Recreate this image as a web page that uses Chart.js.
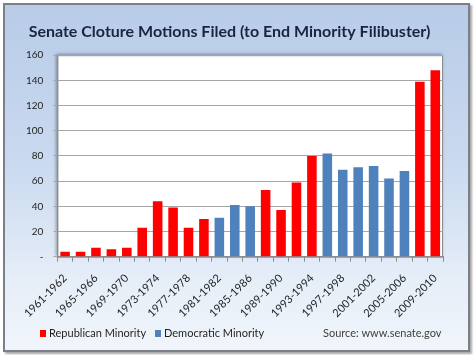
<!DOCTYPE html>
<html>
<head>
<meta charset="utf-8">
<script src="https://cdn.jsdelivr.net/npm/chart.js@4/dist/chart.umd.min.js"></script>
<style>
  html, body { margin: 0; padding: 0; background: #ffffff; }
  #wrap { position: relative; width: 474px; height: 355px; overflow: hidden; }
  #frame {
    position: absolute; left: 3px; top: 3px; width: 463px; height: 345px;
    border: 2px solid #7a7f88;
    background: linear-gradient(to bottom, #b8cce8 0%, #c9d9ef 45%, #e6eef8 80%, #f1f5fb 100%);
    box-shadow: 2px 2px 2px rgba(0,0,0,0.35);
  }
  #chart { position: absolute; left: 0; top: 0; }
  .leg { position: absolute; top: 326px; font: 11px Lato, sans-serif; color: #1f1f1f; white-space: nowrap; line-height: 14px; }
  .sw { display: inline-block; width: 6px; height: 7px; margin-right: 3px; vertical-align: -0px; }
</style>
</head>
<body>
<div id="wrap">
  <div id="frame"></div>
  <canvas id="chart" width="474" height="355"></canvas>
  <div class="leg" style="left:40px"><span class="sw" style="background:#ff0000"></span><span id="lg1"></span></div>
  <div class="leg" style="left:155px"><span class="sw" style="background:#4f81bd"></span><span id="lg2"></span></div>
  <div class="leg" style="left:323px; color:#404040" id="src"></div>
</div>
<script>
const titleText = 'Senate Cloture Motions Filed (to End Minority Filibuster)';
const sourceText = 'Source: www.senate.gov';
const categories = [
  '1961-1962','1963-1964','1965-1966','1967-1968','1969-1970','1971-1972','1973-1974',
  '1975-1976','1977-1978','1979-1980','1981-1982','1983-1984','1985-1986','1987-1988',
  '1989-1990','1991-1992','1993-1994','1995-1996','1997-1998','1999-2000','2001-2002',
  '2003-2004','2005-2006','2007-2008','2009-2010'
];
const seriesNames = ['Republican Minority', 'Democratic Minority'];
const republicanMinority = [4, 4, 7, 6, 7, 23, 44, 39, 23, 30, null, null, null, 53, 37, 59, 80, null, null, null, null, null, null, 139, 148];
const democraticMinority = [null, null, null, null, null, null, null, null, null, null, 31, 41, 40, null, null, null, null, 82, 69, 71, 72, 62, 68, null, null];
const yTicks = [0, 20, 40, 60, 80, 100, 120, 140, 160];

document.getElementById('lg1').textContent = seriesNames[0];
document.getElementById('lg2').textContent = seriesNames[1];
document.getElementById('src').textContent = sourceText;

const plotBg = {
  id: 'plotBg',
  beforeDraw(chart) {
    const { ctx, chartArea: a } = chart;
    ctx.save();
    ctx.shadowColor = 'rgba(0,0,0,0.35)';
    ctx.shadowBlur = 3;
    ctx.shadowOffsetX = -1;
    ctx.shadowOffsetY = -1;
    ctx.fillStyle = '#ffffff';
    ctx.fillRect(a.left, a.top, a.right - a.left, a.bottom - a.top);
    ctx.restore();
    ctx.save();
    ctx.strokeStyle = '#8c8c8c';
    ctx.lineWidth = 1;
    ctx.strokeRect(a.left + 0.5, a.top + 0.5, a.right - a.left - 1, a.bottom - a.top);
    ctx.restore();
  }
};

new Chart(document.getElementById('chart'), {
  type: 'bar',
  data: {
    labels: categories,
    datasets: [
      { label: seriesNames[0], data: republicanMinority, backgroundColor: '#ff0000' },
      { label: seriesNames[1], data: democraticMinority, backgroundColor: '#4f81bd' }
    ]
  },
  options: {
    responsive: false,
    animation: false,
    layout: { padding: { left: 16, right: 31, top: 0, bottom: 25 } },
    datasets: { bar: { categoryPercentage: 1, barPercentage: 0.62 } },
    plugins: {
      legend: { display: false },
      tooltip: { enabled: false },
      title: {
        display: true, text: titleText, color: '#1a2340',
        font: { family: 'Lato', size: 16, weight: 'bold' },
        padding: { top: 22, bottom: 14 }
      }
    },
    scales: {
      x: {
        stacked: true,
        offset: true,
        grid: { offset: true, drawOnChartArea: false, color: '#8c8c8c', tickLength: 5 },
        border: { color: '#8c8c8c' },
        ticks: {
          autoSkip: false, minRotation: 45, maxRotation: 45, padding: 10,
          color: '#1f1f1f', font: { family: 'Lato', size: 11 },
          callback: (v, i) => (i % 2 === 0 ? categories[i] : '')
        }
      },
      y: {
        stacked: true,
        min: yTicks[0], max: yTicks[yTicks.length - 1],
        afterBuildTicks: (axis) => { axis.ticks = yTicks.map(v => ({ value: v })); },
        grid: { color: '#a6a6a6', tickLength: 4 },
        border: { color: '#8c8c8c' },
        ticks: {
          padding: 10, color: '#1f1f1f', font: { family: 'Lato', size: 10 },
          callback: (v) => (v === 0 ? '-' : v)
        }
      }
    }
  },
  plugins: [plotBg]
});
</script>
</body>
</html>
